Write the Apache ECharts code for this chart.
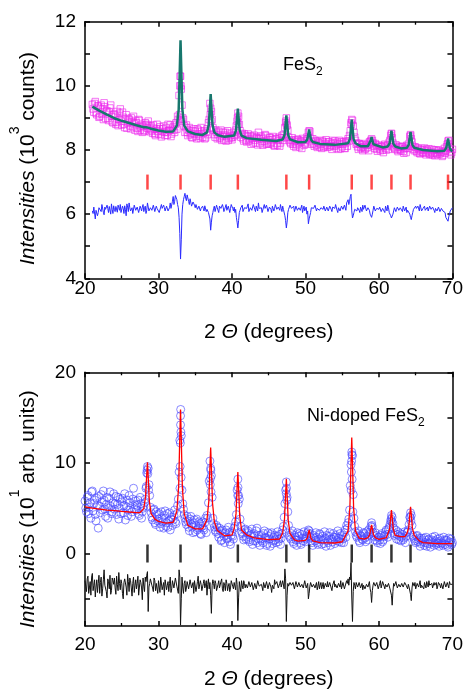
<!DOCTYPE html>
<html><head><meta charset="utf-8">
<script src="https://cdn.jsdelivr.net/npm/echarts@6/dist/echarts.min.js"></script>
<style>html,body{margin:0;padding:0;background:#fff}#c{width:466px;height:691px}</style>
</head><body><div id="c"></div>
<script>
// ---------- DATA ----------
const reflectionsFeS2 = [28.5, 33.0, 37.1, 40.8, 47.4, 50.5, 56.3, 59.0, 61.7, 64.3, 69.4];
const reflectionsNiFeS2 = [28.5, 33.0, 37.1, 40.8, 47.4, 50.5, 56.3, 59.0, 61.7, 64.3];
const topTickLevel = 7.0;
const bottomTickLevel = 0;

// 2θ scans: values at start + 0.2·i ("even") and start + 0.1 + 0.2·i ("odd")
const topScanStart = 21.0;
const bottomScanStart = 20.0;
const scanStep = 0.2;

// FeS2 observed (10^3 counts), 21.0, 21.2 ... 70.0
const topObserved = [
 9.42, 9.18, 9.51, 9.10, 9.36,  9.05, 9.40, 9.28, 9.47, 8.98,
 9.22, 8.92, 9.31, 9.05, 8.85,  9.12, 8.80, 9.20, 8.95, 9.28,
 8.78, 9.02, 8.70, 9.10, 8.84,  8.95, 8.66, 8.88, 9.05, 8.62,
 8.85, 8.58, 8.92, 8.70, 8.55,  8.62, 8.85, 8.80, 8.90, 8.57,
 8.75, 8.52, 8.68, 8.45, 8.80,  8.50, 8.72, 8.41, 8.66, 8.55,
 8.70, 8.46, 8.62, 8.78, 8.50,  8.72, 8.55, 8.85, 9.05, 9.70,
 10.30, 9.40, 8.95, 8.55, 8.78, 8.45, 8.70, 8.52, 8.38, 8.66,
 8.58, 8.35, 8.62, 8.44, 8.70,  8.40, 8.60, 8.38, 8.66, 8.85,
 9.45, 9.20, 8.70, 8.48, 8.62,  8.35, 8.58, 8.41, 8.30, 8.55,
 8.48, 8.28, 8.60, 8.36, 8.45,  8.32, 8.55, 8.45, 8.75, 9.15,
 8.80, 8.40, 8.52, 8.28, 8.45,  8.25, 8.50, 8.33, 8.18, 8.42,
 8.46, 8.22, 8.38, 8.55, 8.20,  8.40, 8.15, 8.28, 8.45, 8.22,
 8.18, 8.38, 8.25, 8.42, 8.12,  8.35, 8.15, 8.40, 8.22, 8.45,
 8.48, 8.70, 9.00, 8.62, 8.30,  8.20, 8.38, 8.12, 8.30, 8.16,
 8.32, 8.10, 8.25, 8.36, 8.15,  8.18, 8.40, 8.55, 8.58, 8.26,
 8.35, 8.12, 8.28, 8.08, 8.22,  8.30, 8.05, 8.25, 8.12, 8.32,
 8.08, 8.26, 8.14, 8.02, 8.22,  8.28, 8.06, 8.18, 8.30, 8.04,
 8.10, 8.25, 8.05, 8.28, 8.35,  8.45, 8.85, 8.92, 8.55, 8.30,
 8.22, 8.02, 8.18, 8.08, 7.98,  8.20, 8.05, 8.15, 7.98, 8.25,
 8.35, 8.22, 8.05, 8.16, 7.96,  8.15, 7.98, 8.10, 7.92, 8.18,
 8.00, 8.16, 8.24, 8.45, 8.38,  8.10, 8.02, 8.14, 7.95, 8.10,
 7.98, 8.12, 7.90, 8.06, 8.15,  8.05, 8.42, 8.35, 8.12, 7.98,
 8.08, 7.92, 8.02, 7.88, 8.05,  7.92, 8.06, 7.85, 7.98, 8.04,
 7.88, 8.02, 7.90, 7.82, 8.00,  7.85, 7.98, 7.92, 7.80, 7.95,
 7.90, 8.10, 8.28, 8.05, 7.85,
 8.02
];
// FeS2 observed, 21.1, 21.3 ... 69.9
const topObservedOdd = [
 9.28, 9.45, 9.15, 9.38, 9.02,  9.30, 9.12, 8.95, 9.35, 9.20,
 8.98, 9.18, 9.40, 8.88, 9.10,  9.05, 8.86, 8.76, 9.15, 8.90,
 9.18, 8.80, 8.95, 8.68, 8.98,  8.75, 9.00, 8.72, 8.82, 8.92,
 8.68, 8.95, 8.62, 8.80, 8.74,  8.58, 8.78, 8.68, 8.75, 8.64,
 8.60, 8.78, 8.50, 8.65, 8.58,  8.66, 8.48, 8.58, 8.75, 8.45,
 8.55, 8.80, 8.60, 8.42, 8.68,  8.62, 8.80, 8.65, 8.95, 10.00,
 9.90, 9.00, 8.75, 8.70, 8.55,  8.62, 8.48, 8.40, 8.60, 8.50,
 8.42, 8.66, 8.50, 8.36, 8.58,  8.52, 8.35, 8.55, 8.48, 8.95,
 9.30, 8.95, 8.62, 8.40, 8.55,  8.48, 8.36, 8.62, 8.44, 8.32,
 8.55, 8.42, 8.30, 8.52, 8.38,  8.40, 8.48, 8.62, 8.90, 9.05,
 8.60, 8.48, 8.35, 8.50, 8.30,  8.42, 8.28, 8.45, 8.36, 8.22,
 8.30, 8.40, 8.16, 8.35, 8.44,  8.26, 8.36, 8.48, 8.18, 8.32,
 8.40, 8.20, 8.32, 8.15, 8.36,  8.20, 8.30, 8.12, 8.38, 8.30,
 8.38, 8.85, 8.78, 8.40, 8.25,  8.32, 8.18, 8.26, 8.08, 8.34,
 8.20, 8.28, 8.05, 8.30, 8.22,  8.30, 8.35, 8.60, 8.36, 8.18,
 8.20, 8.30, 8.15, 8.25, 8.10,  8.18, 8.28, 8.08, 8.20, 8.15,
 8.25, 8.10, 8.20, 8.30, 8.12,  8.14, 8.24, 8.02, 8.20, 8.26,
 8.18, 8.05, 8.22, 8.12, 8.28,  8.60, 8.95, 8.75, 8.40, 8.18,
 8.10, 8.20, 8.06, 8.16, 8.10,  8.02, 8.15, 8.08, 8.25, 8.30,
 8.30, 8.12, 8.20, 8.02, 8.10,  8.04, 8.12, 8.00, 8.14, 8.06,
 8.12, 8.02, 8.30, 8.52, 8.22,  8.06, 8.16, 8.00, 8.08, 8.02,
 8.10, 7.96, 8.04, 7.92, 8.12,  8.20, 8.48, 8.25, 8.02, 8.10,
 7.96, 8.06, 7.90, 8.00, 7.94,  8.00, 7.90, 8.02, 7.92, 7.86,
 7.95, 7.84, 8.00, 7.92, 7.88,  8.00, 7.88, 7.94, 7.84, 8.05,
 7.98, 8.18, 8.30, 7.95, 7.92
];
// extra observed points on the peak flanks
const topPeakObsX = [32.85, 32.95, 33.05, 33.15, 37.05, 37.15, 40.75, 40.85, 47.35, 47.45, 56.25, 61.7, 64.3, 69.4];
const topPeakObsY = [9.10, 10.30, 10.00, 8.90, 9.10, 8.90, 9.00, 8.80, 8.90, 8.75, 8.80, 8.50, 8.45, 8.20];

// FeS2 calculated profile
const topCalcX = [21.0, 22.0, 23.0, 24.0, 25.0, 26.0, 27.0, 28.0, 28.3, 28.5, 28.7, 29.0, 30.0, 31.0, 32.0,
 32.5, 32.75, 32.9, 33.0, 33.1, 33.25, 33.5, 34.0, 35.0, 36.0,
 36.6, 36.85, 37.0, 37.1, 37.2, 37.35, 37.6, 38.1, 39.0,
 40.3, 40.55, 40.7, 40.8, 40.9, 41.05, 41.3, 42.0, 44.0, 46.0,
 46.9, 47.15, 47.3, 47.4, 47.5, 47.65, 47.9, 49.0,
 50.0, 50.25, 50.4, 50.5, 50.6, 50.75, 51.0, 52.0, 54.0,
 55.8, 56.05, 56.2, 56.3, 56.4, 56.55, 56.8, 57.5, 58.5,
 58.75, 58.9, 59.0, 59.1, 59.25, 59.5, 60.5,
 61.2, 61.45, 61.6, 61.7, 61.8, 61.95, 62.2, 63.0,
 63.8, 64.05, 64.2, 64.3, 64.4, 64.55, 64.8, 66.0, 68.0,
 68.9, 69.15, 69.3, 69.4, 69.5, 69.65, 69.9, 70.0];
const topCalcY = [9.35, 9.22, 9.10, 8.99, 8.91, 8.84, 8.77, 8.71, 8.71, 8.77, 8.69, 8.66, 8.61, 8.57, 8.58,
 8.76, 9.27, 10.52, 11.42, 10.52, 9.27, 8.76, 8.58, 8.50, 8.47,
 8.55, 8.79, 9.34, 9.74, 9.34, 8.79, 8.55, 8.46, 8.41,
 8.45, 8.62, 9.01, 9.29, 9.01, 8.62, 8.45, 8.37, 8.32, 8.28,
 8.33, 8.47, 8.83, 9.08, 8.83, 8.47, 8.33, 8.24,
 8.25, 8.33, 8.51, 8.64, 8.51, 8.33, 8.25, 8.19, 8.16,
 8.21, 8.34, 8.70, 8.95, 8.70, 8.34, 8.21, 8.12, 8.12,
 8.18, 8.31, 8.40, 8.31, 8.18, 8.12, 8.08,
 8.11, 8.21, 8.44, 8.60, 8.44, 8.21, 8.11, 8.05,
 8.07, 8.17, 8.40, 8.56, 8.40, 8.17, 8.07, 8.00, 7.96,
 7.98, 8.06, 8.23, 8.36, 8.23, 8.06, 7.97, 7.96];

// FeS2 difference curve, 21.0, 21.2 ... 70.0
const topDifference = [
 6.10, 6.22, 5.85, 6.18, 6.05,  6.20, 6.08, 6.25, 5.98, 6.15,
 6.28, 6.05, 6.18, 6.32, 6.02,  6.15, 6.24, 6.06, 6.20, 6.30,
 6.08, 6.18, 6.26, 5.95, 6.22,  6.35, 6.10, 6.20, 6.05, 6.25,
 6.12, 6.28, 6.02, 6.18, 6.22,  6.08, 6.25, 6.12, 6.30, 6.05,
 6.20, 6.10, 6.26, 6.02, 6.18,  6.22, 6.08, 6.30, 6.12, 6.20,
 6.15, 6.28, 6.05, 6.35, 6.22,  6.55, 6.40, 6.62, 6.30, 5.90,
 4.60, 6.00, 6.45, 6.65, 6.42,  6.55, 6.30, 6.45, 6.22, 6.35,
 6.20, 6.32, 6.12, 6.28, 6.18,  6.25, 6.10, 6.30, 6.15, 6.05,
 5.85, 5.75, 6.05, 6.25, 6.12,  6.20, 6.05, 6.28, 6.12, 6.22,
 6.15, 6.30, 6.08, 6.22, 6.18,  6.25, 6.10, 6.05, 5.90, 5.57,
 6.05, 6.20, 6.28, 6.12, 6.25,  6.18, 6.32, 6.10, 6.25, 6.15,
 6.28, 6.08, 6.22, 6.35, 6.12,  6.20, 6.10, 6.30, 6.15, 6.25,
 6.12, 6.28, 6.05, 6.22, 6.18,  6.25, 6.10, 6.20, 6.30, 6.08,
 6.15, 5.95, 5.57, 6.05, 6.20,  6.28, 6.12, 6.25, 6.15, 6.30,
 6.10, 6.22, 6.18, 6.05, 6.25,  6.15, 6.00, 5.70, 5.95, 6.20,
 6.25, 6.12, 6.30, 6.18, 6.22,  6.10, 6.25, 6.15, 6.28, 6.05,
 6.20, 6.12, 6.30, 6.08, 6.22,  6.18, 6.25, 6.05, 6.20, 6.15,
 6.28, 6.10, 6.22, 6.35, 6.45,  6.40, 6.62, 5.88, 6.05, 6.20,
 6.10, 6.25, 6.05, 6.18, 6.28,  6.12, 6.22, 6.05, 6.25, 6.00,
 5.90, 6.12, 6.20, 6.08, 6.22,  6.15, 6.25, 6.10, 6.20, 6.05,
 6.18, 6.28, 6.05, 5.95, 5.83,  6.10, 6.22, 6.15, 6.28, 6.12,
 6.20, 6.08, 6.25, 6.15, 6.05,  6.12, 6.00, 5.83, 6.05, 6.20,
 6.25, 6.12, 6.22, 6.30, 6.10,  6.18, 6.25, 6.08, 6.22, 6.15,
 6.28, 6.12, 6.20, 6.05, 6.22,  6.15, 6.25, 6.10, 6.20, 6.12,
 6.05, 5.95, 5.78, 6.00, 6.15,
 6.20
];
// FeS2 difference curve, 21.1, 21.3 ... 69.9
const topDifferenceOdd = [
 6.02, 6.25, 6.12, 5.95, 6.20,  6.14, 6.30, 6.06, 6.22, 6.10,
 6.18, 6.24, 6.00, 6.15, 6.26,  6.08, 6.18, 6.28, 6.12, 6.05,
 6.25, 6.02, 6.15, 6.32, 6.08,  6.20, 6.15, 6.02, 6.28, 6.12,
 6.22, 6.05, 6.25, 6.10, 6.30,  6.18, 6.02, 6.35, 6.10, 6.20,
 6.12, 6.28, 6.08, 6.25, 6.15,  6.05, 6.22, 6.18, 6.28, 6.10,
 6.25, 6.10, 6.20, 6.18, 6.40,  6.30, 6.58, 6.45, 6.20, 5.40,
 5.20, 6.30, 6.55, 6.50, 6.60,  6.40, 6.48, 6.25, 6.38, 6.28,
 6.30, 6.15, 6.25, 6.10, 6.22,  6.18, 6.26, 6.08, 6.20, 6.00,
 5.50, 5.95, 6.18, 6.08, 6.28,  6.12, 6.25, 6.18, 6.30, 6.08,
 6.22, 6.12, 6.25, 6.05, 6.30,  6.18, 6.22, 6.15, 5.75, 5.80,
 6.12, 6.25, 6.08, 6.20, 6.15,  6.25, 6.08, 6.20, 6.12, 6.30,
 6.15, 6.25, 6.10, 6.18, 6.24,  6.05, 6.22, 6.18, 6.28, 6.08,
 6.22, 6.15, 6.25, 6.10, 6.30,  6.15, 6.22, 6.12, 6.18, 6.25,
 6.10, 5.80, 5.75, 6.15, 6.28,  6.18, 6.22, 6.08, 6.25, 6.12,
 6.20, 6.12, 6.28, 6.15, 6.10,  6.22, 6.10, 5.85, 6.05, 6.15,
 6.18, 6.28, 6.10, 6.22, 6.12,  6.20, 6.15, 6.25, 6.10, 6.22,
 6.10, 6.25, 6.15, 6.22, 6.18,  6.30, 6.12, 6.20, 6.10, 6.25,
 6.15, 6.28, 6.12, 6.40, 6.30,  6.55, 6.10, 5.95, 6.15, 6.12,
 6.20, 6.12, 6.22, 6.08, 6.15,  6.28, 6.10, 6.20, 6.12, 5.95,
 6.00, 6.25, 6.10, 6.18, 6.12,  6.22, 6.08, 6.18, 6.12, 6.25,
 6.10, 6.20, 6.00, 5.88, 6.00,  6.20, 6.08, 6.22, 6.12, 6.20,
 6.15, 6.25, 6.10, 6.22, 6.12,  6.08, 5.90, 5.95, 6.15, 6.12,
 6.18, 6.25, 6.10, 6.20, 6.15,  6.22, 6.12, 6.18, 6.10, 6.25,
 6.15, 6.22, 6.12, 6.18, 6.10,  6.22, 6.08, 6.18, 6.10, 6.05,
 5.90, 5.85, 5.92, 6.10, 6.05
];

// Ni-doped FeS2 observed (10^1 arb. units), 20.0, 20.2 ... 70.0
const bottomObserved = [
 5.8, 4.6, 6.4, 5.1, 3.9,  6.9, 5.5, 4.3, 6.1, 2.8,
 5.2, 6.5, 4.8, 5.9, 4.1,  6.2, 5.0, 6.8, 4.4, 5.6,
 4.9, 6.3, 5.4, 3.8, 6.0,  5.7, 4.5, 6.6, 5.2, 4.2,
 6.4, 5.0, 4.6, 7.2, 5.4,  4.8, 5.9, 4.2, 5.5, 4.6,
 5.2, 6.0, 8.9, 9.4, 6.4,  4.5, 3.7, 4.9, 3.2, 4.3,
 3.8, 2.9, 4.6, 3.5, 4.2,  3.0, 4.4, 3.6, 2.6, 4.0,
 3.7, 4.8, 3.3, 5.3, 9.0,  15.2, 7.0, 4.9, 3.9, 3.2,
 3.6, 2.5, 4.1, 2.9, 3.4,  2.4, 3.8, 2.8, 3.3, 2.1,
 3.5, 2.6, 3.9, 4.2, 5.6,  10.2, 8.6, 3.9, 2.9, 2.4,
 2.9, 1.8, 2.5, 1.5, 2.2,  1.2, 2.6, 1.7, 2.3, 1.0,
 2.4, 1.6, 3.0, 4.3, 8.2,  6.0, 3.0, 2.2, 1.5, 2.7,
 1.8, 2.5, 1.3, 2.1, 1.0,  2.2, 1.4, 2.8, 1.6, 0.9,
 2.0, 1.2, 2.5, 1.7, 1.1,  1.9, 0.8, 2.3, 1.4, 2.0,
 1.2, 2.4, 1.6, 1.0, 2.2,  3.0, 5.5, 7.9, 4.6, 2.0,
 1.6, 2.5, 1.1, 1.8, 0.9,  1.5, 2.2, 1.0, 1.7, 2.4,
 1.3, 1.9, 2.6, 2.2, 1.4,  0.9, 1.7, 2.3, 1.2, 1.6,
 2.1, 1.0, 1.5, 2.4, 0.8,  1.4, 1.9, 0.9, 1.6, 2.2,
 1.1, 1.8, 2.5, 1.3, 1.6,  2.0, 1.2, 2.6, 3.1, 3.4,
 4.8, 9.8, 10.8, 3.9, 2.4, 1.8, 2.5, 1.2, 1.9, 1.5,
 2.2, 1.3, 1.9, 2.6, 2.4,  3.4, 2.3, 1.5, 2.0, 1.2,
 1.8, 1.1, 2.2, 1.5, 2.0,  2.6, 1.8, 2.9, 3.6, 4.0,
 2.8, 2.2, 1.6, 2.4, 1.9,  1.4, 2.1, 1.7, 1.2, 2.3,
 2.6, 4.0, 4.2, 2.0, 1.6,  1.2, 2.0, 1.5, 0.8, 1.7,
 1.3, 0.9, 1.8, 1.1, 1.6,  0.7, 1.5, 1.2, 1.9, 1.0,
 1.6, 0.8, 1.4, 1.1, 1.8,  1.0, 1.5, 0.7, 1.3, 1.6,
 1.2
];
// Ni-doped FeS2 observed, 20.1, 20.3 ... 69.9
const bottomObservedOdd = [
 5.0, 6.2, 4.4, 5.6, 6.8,  4.7, 5.9, 3.6, 5.3, 6.3,
 4.5, 5.7, 6.9, 4.9, 5.4,  3.9, 6.1, 5.2, 4.6, 6.6,
 5.5, 4.3, 6.2, 5.0, 4.4,  6.1, 5.3, 3.7, 5.9, 4.8,
 5.6, 4.1, 6.0, 4.9, 5.8,  5.3, 4.4, 6.2, 3.9, 5.0,
 5.6, 7.2, 9.6, 7.6, 5.1,  4.0, 4.8, 3.4, 4.6, 3.6,
 4.4, 3.3, 3.9, 2.8, 4.7,  3.4, 2.9, 4.5, 3.8, 3.1,
 4.2, 3.5, 4.4, 6.0, 12.5, 13.0, 5.5, 4.3, 3.5, 4.1,
 2.9, 3.8, 3.2, 2.3, 3.7,  3.1, 2.6, 3.5, 2.2, 3.0,
 2.8, 3.4, 2.3, 3.9, 8.0,  9.4, 6.2, 3.3, 2.6, 3.1,
 2.2, 2.8, 1.4, 2.6, 1.9,  2.3, 1.6, 2.9, 1.3, 2.0,
 1.9, 2.8, 3.5, 7.0, 6.4,  3.8, 2.4, 1.9, 2.6, 1.6,
 2.3, 1.5, 2.0, 2.7, 1.4,  1.9, 2.5, 1.2, 2.0, 1.6,
 1.4, 2.2, 1.8, 0.9, 2.3,  1.6, 2.1, 1.1, 1.8, 1.5,
 1.9, 1.3, 2.1, 1.7, 2.6,  4.0, 7.0, 6.2, 3.1, 1.8,
 2.2, 1.3, 2.0, 1.5, 2.3,  1.9, 1.2, 2.1, 1.4, 1.7,
 1.6, 2.3, 2.5, 1.8, 1.2,  2.0, 1.4, 1.8, 1.0, 2.2,
 1.5, 1.9, 1.1, 1.7, 2.0,  1.2, 2.3, 1.6, 1.3, 1.8,
 2.0, 1.4, 1.7, 2.2, 1.2,  1.6, 2.3, 1.8, 2.8, 3.8,
 7.5, 11.2, 6.5, 3.0, 2.0, 2.2, 1.4, 2.0, 1.6, 2.3,
 1.7, 2.4, 1.5, 2.1, 3.0,  2.9, 1.9, 2.3, 1.4, 1.8,
 1.5, 2.0, 1.3, 1.9, 2.4,  2.1, 2.7, 3.2, 4.2, 3.3,
 2.0, 2.6, 2.1, 1.5, 2.2,  1.8, 1.5, 2.4, 1.9, 2.4,
 3.2, 4.5, 3.1, 1.8, 1.4,  1.9, 1.3, 1.7, 1.1, 1.5,
 1.7, 1.2, 0.8, 1.5, 1.1,  1.3, 1.8, 0.9, 1.4, 1.2,
 1.1, 1.7, 1.2, 0.9, 1.5,  1.4, 0.9, 1.7, 1.2, 1.0
];
const bottomPeakObsX = [28.35, 28.45, 28.55, 28.65,
 32.92, 32.95, 32.98, 33.0, 33.02, 33.05, 33.08,
 37.05, 37.08, 37.12, 37.15,
 40.78, 40.82, 40.85, 47.38, 47.42, 47.45,
 56.22, 56.25, 56.28, 56.32, 56.35, 56.45,
 59.05, 61.65, 61.75, 64.25, 64.35];
const bottomPeakObsY = [7.4, 9.2, 8.8, 7.0,
 7.2, 9.6, 12.2, 14.2, 15.9, 13.4, 8.4,
 7.6, 8.3, 9.2, 6.8,
 6.4, 7.3, 5.5, 6.6, 7.2, 5.9,
 7.0, 9.0, 10.2, 10.9, 8.2, 4.6,
 3.1, 3.8, 3.5, 4.0, 3.6];

// Ni-doped FeS2 calculated profile
const bottomCalcX = [20.0, 21.0, 22.0, 23.0, 24.0, 25.0, 26.0, 27.0, 27.5,
 28.0, 28.25, 28.4, 28.5, 28.6, 28.75, 29.0, 29.5, 30.0, 31.0, 32.0,
 32.5, 32.75, 32.9, 33.0, 33.1, 33.25, 33.5, 34.0, 35.0, 36.0,
 36.6, 36.85, 37.0, 37.1, 37.2, 37.35, 37.6, 38.0, 39.0, 40.0,
 40.3, 40.55, 40.7, 40.8, 40.9, 41.05, 41.3, 42.0, 43.0, 45.0, 46.5,
 46.9, 47.15, 47.3, 47.4, 47.5, 47.65, 47.9, 48.5, 49.0,
 50.0, 50.25, 50.4, 50.5, 50.6, 50.75, 51.0, 52.0, 54.0, 55.0,
 55.8, 56.05, 56.2, 56.3, 56.4, 56.55, 56.8, 57.3, 58.0, 58.5,
 58.75, 58.9, 59.0, 59.1, 59.25, 59.5, 60.0, 61.0,
 61.45, 61.6, 61.7, 61.8, 61.95, 62.2, 62.8, 63.5,
 63.8, 64.05, 64.2, 64.3, 64.4, 64.55, 64.8, 65.5, 66.0, 68.0, 70.0];
const bottomCalcY = [5.15, 5.00, 4.90, 4.80, 4.73, 4.65, 4.58, 4.52, 4.52,
 4.95, 6.35, 8.70, 10.07, 8.50, 5.80, 4.40, 3.80, 3.55, 3.35, 3.45,
 4.66, 7.50, 12.85, 15.90, 12.70, 7.30, 4.40, 3.10, 2.72, 2.72,
 3.74, 5.80, 9.54, 11.70, 9.40, 5.60, 3.50, 2.55, 1.95, 2.05,
 2.75, 4.40, 7.30, 8.98, 7.20, 4.20, 2.60, 2.05, 1.72, 1.53, 1.60,
 2.30, 3.80, 6.60, 8.25, 6.50, 3.70, 2.20, 1.50, 1.37,
 1.45, 1.70, 2.25, 2.60, 2.25, 1.70, 1.40, 1.20, 1.16, 1.30,
 2.50, 5.15, 10.00, 12.80, 10.00, 5.10, 2.50, 1.70, 1.60, 1.75,
 2.10, 2.75, 3.16, 2.75, 2.10, 1.75, 1.55, 1.75,
 2.70, 4.00, 4.80, 4.00, 2.70, 2.00, 1.90, 1.85,
 2.20, 2.85, 4.30, 5.16, 4.30, 2.80, 2.00, 1.40, 1.20, 1.10, 1.10];

// Ni-doped FeS2 difference curve, 20.0, 20.2 ... 70.0
const bottomDifference = [
 -3.0, -4.2, -2.5, -3.8, -4.6,  -2.2, -3.5, -4.8, -2.9, -3.3,
 -4.4, -2.6, -3.9, -1.8, -3.6,  -4.9, -3.1, -2.4, -4.1, -3.0,
 -2.7, -4.5, -3.4, -2.1, -4.0,  -3.3, -5.0, -2.8, -3.7, -2.3,
 -4.2, -3.0, -4.7, -2.6, -3.5,  -3.9, -2.5, -4.4, -3.2, -5.1,
 -3.6, -2.6, -2.4, -6.4, -3.3,  -2.9, -3.8, -2.7, -4.1, -3.4,
 -3.0, -4.3, -2.8, -3.6, -4.6,  -2.9, -3.5, -4.2, -2.6, -3.9,
 -3.2, -4.0, -2.9, -3.7, -1.8,  -7.9, -2.6, -4.4, -3.0, -3.8,
 -3.3, -4.1, -2.7, -3.6, -4.4,  -3.0, -3.7, -2.5, -4.0, -3.4,
 -4.3, -2.9, -3.5, -4.6, -2.8,  -3.2, -6.6, -2.9, -3.9, -3.3,
 -4.0, -3.0, -3.7, -2.8, -4.2,  -3.5, -2.9, -4.1, -3.3, -3.8,
 -3.0, -3.9, -3.4, -2.7, -7.4,  -3.1, -4.2, -3.5, -3.0, -3.8,
 -3.3, -4.0, -2.9, -3.6, -3.2,  -3.9, -3.1, -3.7, -2.8, -3.5,
 -3.4, -4.1, -3.0, -3.6, -3.3,  -3.8, -3.1, -4.3, -3.4, -2.9,
 -3.6, -3.2, -3.9, -3.0, -3.5,  -3.2, -1.7, -7.5, -3.3, -3.8,
 -3.0, -3.7, -3.3, -4.0, -3.4,  -3.6, -3.1, -3.8, -3.3, -3.9,
 -3.4, -3.9, -5.0, -3.6, -3.2,  -3.8, -3.3, -3.6, -4.0, -3.1,
 -3.5, -3.9, -3.2, -3.7, -3.4,  -3.1, -3.8, -3.4, -4.1, -3.3,
 -3.7, -3.2, -3.9, -3.5, -3.0,  -3.8, -3.3, -3.6, -3.0, -2.8,
 -2.6, -1.0, -7.5, -3.2, -3.9,  -3.4, -3.9, -3.1, -3.6, -4.0,
 -3.3, -3.8, -3.2, -3.6, -3.9,  -5.4, -3.5, -3.1, -3.8, -3.4,
 -3.6, -3.0, -3.7, -3.3, -3.9,  -3.2, -3.8, -3.4, -4.1, -5.7,
 -3.3, -3.7, -3.0, -3.6, -3.2,  -3.8, -3.4, -3.9, -3.1, -3.6,
 -3.4, -3.9, -5.2, -3.2, -3.6,  -3.9, -3.3, -3.7, -3.0, -3.5,
 -3.6, -3.2, -3.8, -3.4, -3.0,  -3.7, -3.3, -3.9, -3.5, -3.2,
 -3.6, -3.0, -3.8, -3.4, -3.7,  -3.3, -3.9, -3.5, -3.1, -3.6,
 -3.4
];
// Ni-doped FeS2 difference curve, 20.1, 20.3 ... 69.9
const bottomDifferenceOdd = [
 -3.6, -2.8, -4.4, -3.1, -2.6,  -4.1, -2.9, -3.7, -4.3, -2.4,
 -3.2, -4.7, -2.9, -3.5, -4.2,  -2.8, -3.9, -4.5, -2.7, -3.4,
 -3.8, -2.5, -4.1, -3.3, -2.9,  -4.4, -3.2, -2.6, -4.6, -3.1,
 -2.7, -3.8, -3.3, -4.3, -2.9,  -3.3, -4.6, -2.9, -3.8, -2.7,
 -4.2, -3.1, -2.0, -3.7, -2.8,  -3.5, -4.2, -3.0, -3.3, -4.4,
 -3.7, -2.6, -4.0, -3.2, -2.9,  -4.0, -3.1, -3.3, -4.3, -3.0,
 -3.8, -2.7, -3.6, -4.4, -2.6,  -5.0, -3.7, -3.3, -4.2, -3.1,
 -3.9, -2.9, -3.8, -3.2, -3.0,  -4.2, -3.1, -3.9, -3.0, -4.1,
 -3.3, -3.8, -3.0, -3.4, -3.9,  -4.6, -3.5, -3.3, -3.0, -4.1,
 -3.4, -3.8, -3.1, -3.9, -3.2,  -4.1, -3.3, -3.6, -4.2, -3.0,
 -3.6, -3.2, -4.0, -3.4, -4.9,  -3.7, -3.0, -3.9, -3.3, -3.4,
 -3.8, -3.1, -3.7, -3.2, -4.0,  -3.3, -3.9, -3.0, -3.6, -3.8,
 -3.7, -3.2, -3.8, -3.1, -3.9,  -3.2, -3.7, -3.5, -3.9, -3.4,
 -3.1, -3.8, -3.3, -3.7, -3.0,  -3.9, -2.8, -4.6, -3.6, -3.2,
 -3.5, -3.2, -3.9, -3.1, -3.7,  -3.2, -3.7, -3.4, -3.8, -3.0,
 -3.8, -3.3, -4.4, -3.2, -3.7,  -3.4, -3.8, -3.2, -3.6, -3.9,
 -3.2, -3.6, -3.9, -3.3, -3.7,  -3.7, -3.2, -3.8, -3.5, -3.0,
 -3.4, -3.8, -3.3, -3.7, -3.9,  -3.2, -3.9, -3.4, -3.3, -3.5,
 -2.9, -4.8, -4.2, -3.5, -3.2,  -3.7, -3.2, -3.8, -3.3, -3.5,
 -3.9, -3.4, -3.7, -3.1, -4.3,  -4.1, -3.2, -3.6, -3.2, -3.9,
 -3.3, -3.8, -3.1, -3.6, -3.4,  -3.7, -3.3, -3.9, -4.6, -4.2,
 -3.6, -3.1, -3.8, -3.4, -3.7,  -3.3, -3.7, -3.2, -3.5, -3.9,
 -3.7, -4.5, -3.8, -3.4, -3.2,  -3.6, -3.1, -3.5, -3.8, -3.3,
 -3.9, -3.4, -3.1, -3.7, -3.5,  -3.4, -3.8, -3.2, -3.6, -3.9,
 -3.2, -3.5, -3.3, -3.9, -3.1,  -3.7, -3.2, -3.8, -3.4, -3.5
];

// axis ticks / labels
const xTicks = [20, 30, 40, 50, 60, 70];
const topYLabels = [4, 6, 8, 10, 12];
const topYTicks = [4, 5, 6, 7, 8, 9, 10, 11, 12];
const bottomYLabels = [0, 10, 20];
const bottomYTicks = [-5, 0, 5, 10, 15, 20];

// ---------- BUILD ----------
const FONT = '"Liberation Sans", Arial, Helvetica, sans-serif';
const rnd = v => Number(v.toFixed(2));
// merge the two interleaved halves of a 0.1° scan
function scan(start, even, odd) {
  const out = [];
  for (let i = 0; i < even.length; i++) {
    out.push([rnd(start + i * scanStep), even[i]]);
    if (i < odd.length) out.push([rnd(start + 0.1 + i * scanStep), odd[i]]);
  }
  return out;
}
const zipXY = (xs, ys) => xs.map((x, i) => [x, ys[i]]);

function xAxisPair(gridIndex, labelMargin) {
  const common = {
    type: 'value', gridIndex, min: 20, max: 70, interval: 10,
    splitLine: { show: false },
    axisLine: { onZero: false, lineStyle: { color: '#000', width: 1.5 } },
    axisTick: { inside: true, length: 5, customValues: xTicks, lineStyle: { color: '#000', width: 1.5 } },
    minorTick: { show: true, splitNumber: 2, length: 3, lineStyle: { color: '#000', width: 1.3 } },
    minorSplitLine: { show: false }
  };
  return [
    Object.assign({}, common, {
      position: 'bottom',
      axisLabel: { margin: labelMargin, fontSize: 19, color: '#000', fontFamily: FONT, customValues: xTicks },
      name: '2 {it|Θ} (degrees)', nameLocation: 'middle', nameGap: 43,
      nameTextStyle: { fontSize: 21, color: '#000', fontFamily: FONT,
        rich: { it: { fontSize: 21, fontStyle: 'italic', color: '#000', fontFamily: FONT } } }
    }),
    Object.assign({}, common, { position: 'top', axisLabel: { show: false } })
  ];
}

function yAxisPair(gridIndex, min, max, labels, ticks, name, shift) {
  const common = {
    type: 'value', gridIndex, min, max,
    splitLine: { show: false },
    axisLine: { onZero: false, lineStyle: { color: '#000', width: 1.5 } },
    axisTick: { inside: true, length: 5, customValues: ticks, lineStyle: { color: '#000', width: 1.5 } }
  };
  return [
    Object.assign({}, common, {
      position: 'left',
      axisLabel: { margin: 9, fontSize: 19, color: '#000', fontFamily: FONT, customValues: labels },
      name, nameLocation: 'middle', nameGap: 37,
      nameTextStyle: { fontSize: 21, color: '#000', fontFamily: FONT, padding: [0, shift, 0, 0],
        rich: {
          it: { fontSize: 21, fontStyle: 'italic', color: '#000', fontFamily: FONT },
          sup: { fontSize: 14, color: '#000', fontFamily: FONT, padding: [0, 0, 26, 0] }
        } }
    }),
    Object.assign({}, common, { position: 'right', axisLabel: { show: false } })
  ];
}

const option = {
  animation: false,
  backgroundColor: '#fff',
  title: [
    { text: 'FeS{sub|2}', left: 283, top: 53, padding: 0,
      textStyle: { fontSize: 18, fontWeight: 'normal', color: '#000', fontFamily: FONT,
        rich: { sub: { fontSize: 12, color: '#000', fontFamily: FONT, padding: [13, 0, 0, 0] } } } },
    { text: 'Ni-doped FeS{sub|2}', left: 307, top: 404, padding: 0,
      textStyle: { fontSize: 18, fontWeight: 'normal', color: '#000', fontFamily: FONT,
        rich: { sub: { fontSize: 12, color: '#000', fontFamily: FONT, padding: [13, 0, 0, 0] } } } }
  ],
  grid: [
    { left: 83.3, right: 13.3, top: 21.7, height: 256.6 },
    { left: 83.3, right: 13.3, top: 372.3, height: 256 }
  ],
  xAxis: [...xAxisPair(0, 1), ...xAxisPair(1, 9)],
  yAxis: [
    ...yAxisPair(0, 4, 12, topYLabels, topYTicks, '{it|Intensities} (10{sup|3} counts)', 17),
    ...yAxisPair(1, -8, 20, bottomYLabels, bottomYTicks, '{it|Intensities} (10{sup|1} arb. units)', 20)
  ],
  series: [
    { type: 'scatter', xAxisIndex: 0, yAxisIndex: 0, symbol: 'rect', symbolSize: 6.5,
      itemStyle: { color: 'rgba(0,0,0,0)', borderColor: 'rgba(236,40,236,0.8)', borderWidth: 1 },
      data: scan(topScanStart, topObserved, topObservedOdd).concat(zipXY(topPeakObsX, topPeakObsY)), z: 2 },
    { type: 'line', xAxisIndex: 0, yAxisIndex: 0, symbol: 'none', z: 3,
      lineStyle: { color: '#17776d', width: 2.5 }, data: zipXY(topCalcX, topCalcY) },
    { type: 'line', xAxisIndex: 0, yAxisIndex: 0, symbol: 'none', z: 3,
      lineStyle: { color: '#2a2aff', width: 1 }, data: scan(topScanStart, topDifference, topDifferenceOdd) },
    { type: 'scatter', xAxisIndex: 0, yAxisIndex: 0, symbol: 'rect', symbolSize: [2.5, 15],
      itemStyle: { color: '#ff1a1a' }, data: reflectionsFeS2.map(x => [x, topTickLevel]), z: 3 },

    { type: 'scatter', xAxisIndex: 2, yAxisIndex: 2, symbol: 'circle', symbolSize: 8,
      itemStyle: { color: 'rgba(0,0,0,0)', borderColor: 'rgba(70,70,255,0.8)', borderWidth: 1 },
      data: scan(bottomScanStart, bottomObserved, bottomObservedOdd).concat(zipXY(bottomPeakObsX, bottomPeakObsY)), z: 2 },
    { type: 'line', xAxisIndex: 2, yAxisIndex: 2, symbol: 'none', z: 3,
      lineStyle: { color: '#ff0000', width: 1.3 }, data: zipXY(bottomCalcX, bottomCalcY) },
    { type: 'line', xAxisIndex: 2, yAxisIndex: 2, symbol: 'none', z: 3,
      lineStyle: { color: '#111', width: 1 }, data: scan(bottomScanStart, bottomDifference, bottomDifferenceOdd) },
    { type: 'scatter', xAxisIndex: 2, yAxisIndex: 2, symbol: 'rect', symbolSize: [2.5, 18],
      itemStyle: { color: '#000' }, data: reflectionsNiFeS2.map(x => [x, bottomTickLevel]), z: 3 }
  ]
};

const chart = echarts.init(document.getElementById('c'), null, { renderer: 'canvas' });
chart.setOption(option);
</script>
</body></html>
